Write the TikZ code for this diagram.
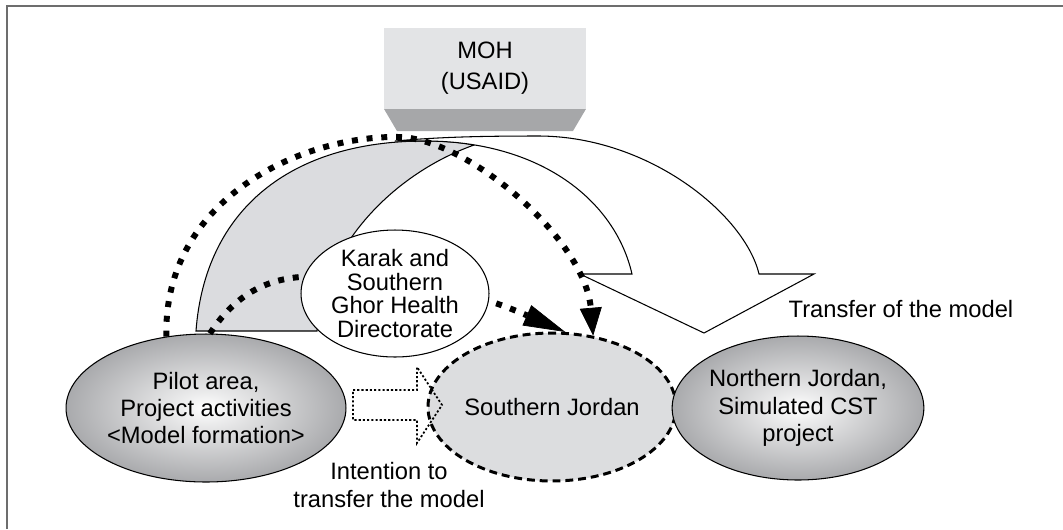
\documentclass[tikz,border=0pt]{standalone}
\usepackage{fontspec}
\setmainfont{Liberation Sans}
\usetikzlibrary{shapes.geometric, arrows.meta}
\definecolor{framegray}{HTML}{6D6D6D}
\definecolor{mohlight}{HTML}{E3E4E6}
\definecolor{mohdark}{HTML}{A6A7A9}
\definecolor{bandgray}{HTML}{DBDCDF}
\definecolor{southgray}{HTML}{DCDDDF}
\definecolor{glowedge}{HTML}{9FA0A3}
\pgfdeclareradialshading{glow}{\pgfpointorigin}{color(0bp)=(white); color(5bp)=(white!80!glowedge); color(28bp)=(glowedge); color(50bp)=(glowedge)}
\tikzstyle{mohbox} = [rectangle, fill=mohlight, minimum width=4.04cm, minimum height=1.62cm, outer sep=0pt, align=center, font=\fontsize{13.5}{17.6}\selectfont]
\tikzstyle{glowblob} = [ellipse, draw=black, line width=0.6pt, shading=glow, inner sep=0pt, align=center]
\tikzstyle{dashblob} = [ellipse, draw=black, line width=1.7pt, dash pattern=on 4.5pt off 2.8pt, fill=southgray, minimum width=4.12cm, minimum height=2.96cm, inner sep=0pt]
\tikzstyle{plainblob} = [ellipse, draw=black, line width=0.6pt, fill=white, minimum width=3.76cm, minimum height=2.54cm, inner sep=0pt, align=center, font=\fontsize{13.5}{13.5}\selectfont]
\tikzstyle{band} = [draw=black, line width=0.6pt]
\tikzstyle{bigdots} = [line width=3.4pt, dash pattern=on 3.4pt off 5pt]
\tikzstyle{finedots} = [line width=1pt, dash pattern=on 1.2pt off 1.2pt]
\tikzstyle{txt} = [align=center]

\begin{document}
\begin{tikzpicture}[x=0.02cm, y=-0.02cm, font=\fontsize{13.5}{15.6}\selectfont]
\useasboundingbox (0,0) rectangle (1063,529);
% frame
\draw [framegray, line width=1.1pt] (7,529) -- (7,6) -- (1063,6);

% gray band and white transfer arrow
\filldraw [band, fill=bandgray] (196,331) .. controls (205,210) and (290,141) .. (425,141) .. controls (442,141) and (459,142) .. (474,145) .. controls (390,175) and (322,250) .. (317,331) -- cycle;
\filldraw [band, fill=white] (395,141) .. controls (440,137) and (480,136) .. (540,136) .. controls (650,137) and (745,215) .. (759,274) -- (814,274) -- (704,333) -- (580,274) -- (632,274) .. controls (615,200) and (540,141) .. (425,141) -- cycle;

% MOH
\node (moh) [mohbox] at (485,68.5) {MOH\\(USAID)};
\fill [mohdark] (moh.south west) -- (moh.south east) -- ++(-13,22) -- ++(-176,0) -- cycle;

% areas
\node (pilot) [glowblob, minimum width=5.6cm, minimum height=2.96cm] at (206,408) {Pilot area,\\Project activities\\<Model formation>};
\node (south) [dashblob] at (552,407) {Southern Jordan};
\node (north) [glowblob, minimum width=4.28cm, minimum height=2.88cm] at (798,408) {Northern Jordan,\\Simulated CST\\project};

% dotted arrows
\draw [bigdots, -{Triangle[length=15.9pt, width=12.5pt, line width=0.4pt]}] (pilot.119) .. controls (163,200) and (300,135) .. (400,137) .. controls (470,140) and (585,240) .. (south.60);
\draw [bigdots, -{Triangle[length=23.8pt, width=12.5pt, line width=0.4pt]}] (pilot.87) .. controls (235,295) and (265,280) .. (300,277) .. controls (400,270) and (480,295) .. (south.80);

\node (karak) [plainblob] at (395,293.5) {Karak and\\Southern\\Ghor Health\\Directorate};

% intention arrow
\draw [finedots] (353,390) -- (417,390) -- (417,367) -- (442,405) -- (417,443) -- (417,420) -- (353,420) -- cycle;

% labels
\node (intent) [txt] at (389,485) {Intention to\\transfer the model};
\node (transfer) [txt, anchor=base] at (901,317) {Transfer of the model};
\end{tikzpicture}
\end{document}
